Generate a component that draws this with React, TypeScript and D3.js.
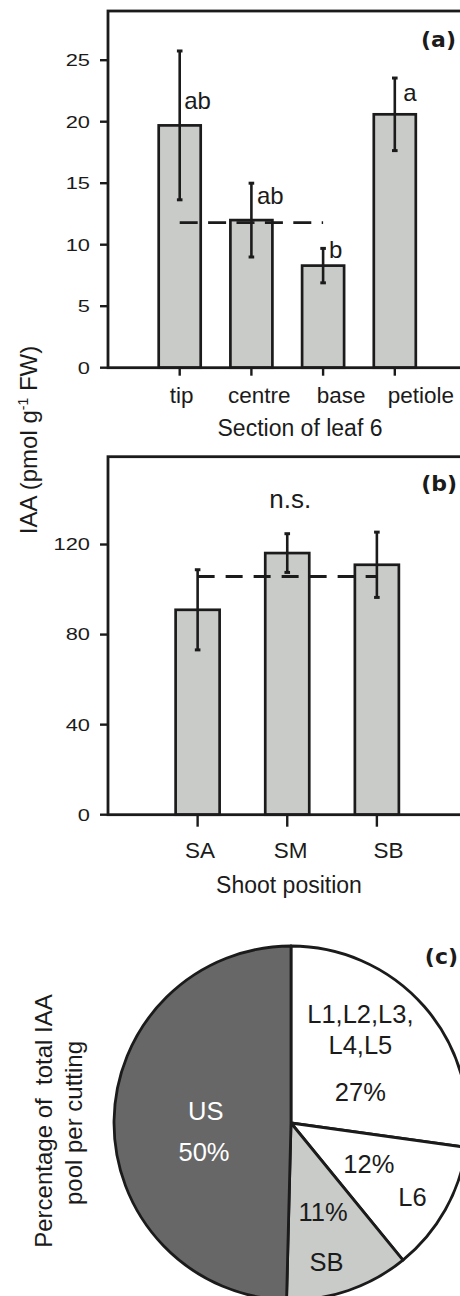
import React from 'react';
import * as d3 from 'd3';

// panel (a): IAA in sections of leaf 6
const leafSections = ['tip', 'centre', 'base', 'petiole'];
const leafIAA = [19.7, 12.0, 8.3, 20.6];
const leafSE = [6.05, 3.0, 1.4, 2.95];
const leafLetters = ['ab', 'ab', 'b', 'a'];
const leafMean = 11.8;
const leafTicks = [0, 5, 10, 15, 20, 25];

// panel (b): IAA by shoot position
const shootPositions = ['SA', 'SM', 'SB'];
const shootIAA = [91.0, 116.2, 111.0];
const shootSE = [17.8, 8.6, 14.5];
const shootMean = 105.8;
const shootTicks = [0, 40, 80, 120];

// panel (c): share of total IAA pool per cutting
const poolParts = ['L1,L2,L3,\nL4,L5', 'L6', 'SB', 'US'];
const poolShare = [27.2, 11.9, 11.3, 49.6];

const FONT = '"Liberation Sans", Arial, Helvetica, sans-serif';
const INK = '#1b1b1b';
const BAR = '#c9cbc9';
const DARK = '#676767';
const LEFT = 108;
const RIGHT = 466.5;

function YTicks({ ticks, y }: { ticks: number[]; y: d3.ScaleLinear<number, number> }) {
  return (
    <g>
      {ticks.map((t) => (
        <g key={t}>
          <line x1={LEFT - 8} x2={LEFT} y1={y(t)} y2={y(t)} stroke={INK} strokeWidth={2.4} />
          <text
            transform={`translate(90,${y(t)}) scale(1.3,1)`}
            dy="0.35em"
            textAnchor="end"
            fontSize={16.8}
            fill={INK}
          >
            {t}
          </text>
        </g>
      ))}
    </g>
  );
}

function ErrorBar({ x, y0, y1 }: { x: number; y0: number; y1: number }) {
  return (
    <g stroke={INK} strokeWidth={2.6}>
      <line x1={x} x2={x} y1={y0} y2={y1} />
      <line x1={x - 2.8} x2={x + 2.8} y1={y0} y2={y0} strokeWidth={3} />
      <line x1={x - 2.8} x2={x + 2.8} y1={y1} y2={y1} strokeWidth={3} />
    </g>
  );
}

function PanelLabel({ text, x, y }: { text: string; x: number; y: number }) {
  return (
    <text x={x} y={y} textAnchor="end" fontSize={22} fontWeight="bold" fontFamily="DejaVu Sans" fill={INK}>
      {text}
    </text>
  );
}

function PanelA() {
  const y = d3.scaleLinear().domain([0, 29]).range([367.7, 11]);
  const x = d3.scalePoint<string>().domain(leafSections).range([LEFT, RIGHT]).padding(1);
  const labelDx = [2, 7.8, 18, 26];
  const letterAt = [
    { dx: 4.5, v: 21.0 },
    { dx: 5.5, v: 13.3 },
    { dx: 6, v: 8.9 },
    { dx: 8.5, v: 21.7 },
  ];
  const bw = 42;
  return (
    <g>
      {leafSections.map((c, i) => (
        <rect
          key={c}
          x={x(c)! - bw / 2}
          y={y(leafIAA[i])}
          width={bw}
          height={y(0) - y(leafIAA[i])}
          fill={BAR}
          stroke={INK}
          strokeWidth={2.7}
        />
      ))}
      <line
        x1={x('tip')}
        x2={x('base')}
        y1={y(leafMean)}
        y2={y(leafMean)}
        stroke={INK}
        strokeWidth={2.8}
        strokeDasharray="18 10.4"
      />
      {leafSections.map((c, i) => (
        <ErrorBar key={c} x={x(c)!} y0={y(leafIAA[i] - leafSE[i])} y1={y(leafIAA[i] + leafSE[i])} />
      ))}
      {leafLetters.map((l, i) => (
        <text key={i} x={x(leafSections[i])! + letterAt[i].dx} y={y(letterAt[i].v)} fontSize={24} fill={INK}>
          {l}
        </text>
      ))}
      <rect x={LEFT} y={11} width={RIGHT - LEFT} height={y(0) - 11} fill="none" stroke={INK} strokeWidth={2.8} />
      <YTicks ticks={leafTicks} y={y} />
      {leafSections.map((c, i) => (
        <g key={c}>
          <line x1={x(c)} x2={x(c)} y1={y(0)} y2={y(0) + 8} stroke={INK} strokeWidth={2.4} />
          <text x={x(c)! + labelDx[i]} y={402.7} textAnchor="middle" fontSize={22.5} fill={INK}>
            {c}
          </text>
        </g>
      ))}
      <text x={300} y={435.7} textAnchor="middle" fontSize={23} fill={INK}>
        Section of leaf 6
      </text>
      <PanelLabel text="(a)" x={456} y={47.2} />
    </g>
  );
}

function PanelB() {
  const y = d3.scaleLinear().domain([0, 159]).range([814.7, 456.7]);
  const x = d3.scalePoint<string>().domain(shootPositions).range([LEFT, RIGHT]).padding(1);
  const labelDx = [2.5, 3.3, 11.6];
  const bw = 44;
  return (
    <g>
      {shootPositions.map((c, i) => (
        <rect
          key={c}
          x={x(c)! - bw / 2}
          y={y(shootIAA[i])}
          width={bw}
          height={y(0) - y(shootIAA[i])}
          fill={BAR}
          stroke={INK}
          strokeWidth={2.7}
        />
      ))}
      <line
        x1={x('SA')}
        x2={x('SB')}
        y1={y(shootMean)}
        y2={y(shootMean)}
        stroke={INK}
        strokeWidth={2.8}
        strokeDasharray="17 11"
      />
      {shootPositions.map((c, i) => (
        <ErrorBar key={c} x={x(c)!} y0={y(shootIAA[i] - shootSE[i])} y1={y(shootIAA[i] + shootSE[i])} />
      ))}
      <text x={x('SM')! + 3} y={508.3} textAnchor="middle" fontSize={26} fill={INK}>
        n.s.
      </text>
      <rect x={LEFT} y={456.7} width={RIGHT - LEFT} height={y(0) - 456.7} fill="none" stroke={INK} strokeWidth={2.8} />
      <YTicks ticks={shootTicks} y={y} />
      {shootPositions.map((c, i) => (
        <g key={c}>
          <line x1={x(c)} x2={x(c)} y1={y(0)} y2={y(0) + 12} stroke={INK} strokeWidth={2.4} />
          <text x={x(c)! + labelDx[i]} y={857.7} textAnchor="middle" fontSize={22.5} fill={INK}>
            {c}
          </text>
        </g>
      ))}
      <text x={289} y={893} textAnchor="middle" fontSize={23} fill={INK}>
        Shoot position
      </text>
      <PanelLabel text="(b)" x={457} y={490.5} />
      {/* shared y title for (a) and (b) */}
      <text transform="translate(37,440) rotate(-90)" textAnchor="middle" fontSize={24} fill={INK}>
        IAA (pmol g
        <tspan fontSize={14} dy={-9}>-1</tspan>
        <tspan dy={9}> FW)</tspan>
      </text>
    </g>
  );
}

function PanelC() {
  const cx = 291;
  const cy = 1123;
  const radius = 177;
  const pie = d3.pie<number>().sort(null).value((d) => d);
  const arcs = pie(poolShare);
  const arc = d3.arc<d3.PieArcDatum<number>>().innerRadius(0).outerRadius(radius);
  const fills = ['#ffffff', '#ffffff', BAR, DARK];
  // label placement around each slice's centroid
  const layout = [
    { r: 92, name: [{ dx: 0, dy: -39.3 }, { dx: 0, dy: -8.6 }], pct: { dx: 0, dy: 38.1 } },
    { r: 110, name: [{ dx: 25.6, dy: 29 }], pct: { dx: -18, dy: -4 } },
    { r: 110, name: [{ dx: 0, dy: 43.6 }], pct: { dx: -3.6, dy: -6.4 } },
    { r: 86, name: [{ dx: 0.8, dy: -2 }], pct: { dx: -1, dy: 39 } },
  ];
  return (
    <g>
      <g transform={`translate(${cx},${cy})`}>
        {arcs.map((a, i) => (
          <path key={i} d={arc(a)!} fill={fills[i]} stroke={INK} strokeWidth={2.8} strokeLinejoin="round" />
        ))}
        {arcs.map((a, i) => {
          const [lx, ly] = d3.arc<d3.PieArcDatum<number>>().innerRadius(layout[i].r).outerRadius(layout[i].r).centroid(a);
          const color = i === 3 ? '#ffffff' : INK;
          const lines = poolParts[i].split('\n');
          return (
            <g key={i} fill={color} fontSize={25.5} textAnchor="middle">
              {lines.map((t, j) => (
                <text key={j} x={lx + layout[i].name[j].dx} y={ly + layout[i].name[j].dy}>
                  {t}
                </text>
              ))}
              <text x={lx + layout[i].pct.dx} y={ly + layout[i].pct.dy}>
                {Math.round(poolShare[i])}%
              </text>
            </g>
          );
        })}
      </g>
      <PanelLabel text="(c)" x={458} y={964} />
      <text
        transform="translate(51.7,1121) rotate(-90)"
        textAnchor="middle"
        fontSize={24}
        fill={INK}
        style={{ whiteSpace: 'pre' }}
      >
        {'Percentage of  total IAA'}
      </text>
      <text transform="translate(81.7,1123) rotate(-90)" textAnchor="middle" fontSize={24} fill={INK}>
        pool per cutting
      </text>
    </g>
  );
}

export default function App() {
  return (
    <svg
      width={460}
      height={1296}
      style={{ position: 'absolute', left: 0, top: 0, background: '#fff' }}
      fontFamily={FONT}
    >
      <rect width={460} height={1296} fill="#fff" />
      <PanelA />
      <PanelB />
      <PanelC />
    </svg>
  );
}
